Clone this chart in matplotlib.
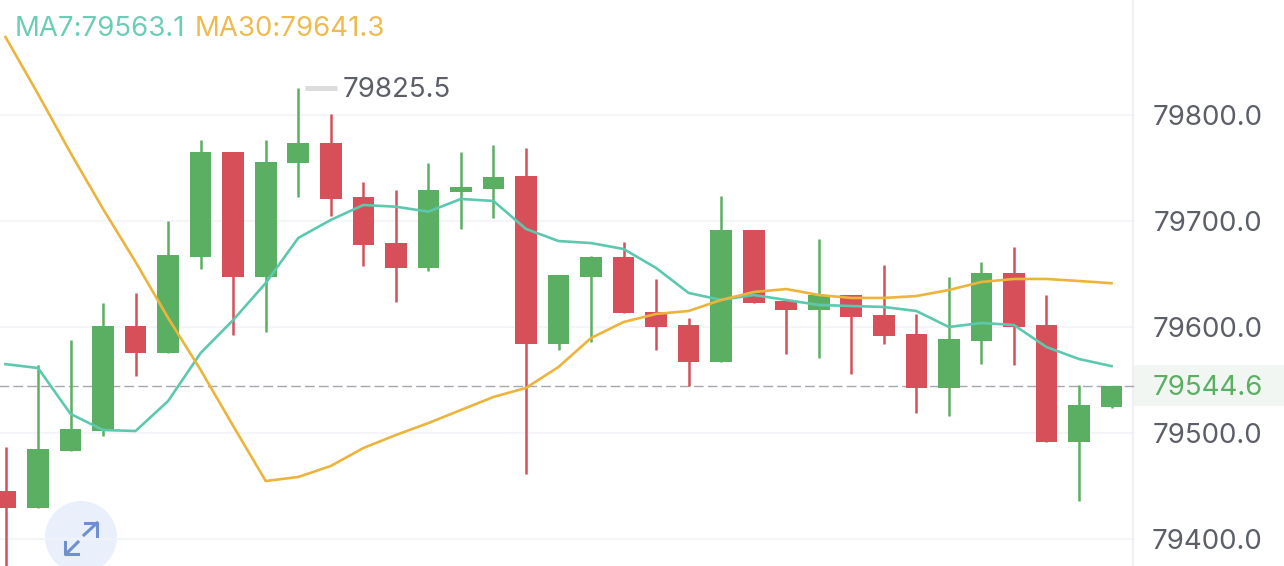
# candlestick chart with MA lines, phone app look

import matplotlib
matplotlib.use('Agg')
import matplotlib.pyplot as plt
from matplotlib.patches import Circle, Rectangle

plt.rcParams['font.family'] = ['Inter', 'Liberation Sans', 'DejaVu Sans']

opens = [79445.3, 79429.2, 79483.0, 79501.9, 79600.9, 79575.5, 79666.0, 79765.1, 79647.2, 79754.7,
         79773.6, 79722.6, 79679.2, 79655.7, 79727.4, 79730.2, 79742.5, 79584.0, 79647.2, 79666.0,
         79614.2, 79601.9, 79567.0, 79691.5, 79624.5, 79616.0, 79630.2, 79611.3, 79593.4, 79542.5,
         79586.8, 79650.9, 79601.9, 79491.5, 79524.5]
highs = [79486.8, 79564.2, 79587.7, 79622.6, 79632.1, 79700.0, 79776.4, 79765.1, 79776.4, 79825.5,
         79800.9, 79736.8, 79729.2, 79754.7, 79765.1, 79771.7, 79768.9, 79649.1, 79667.0, 79680.2,
         79645.3, 79608.5, 79723.6, 79691.5, 79624.5, 79683.0, 79630.2, 79658.5, 79612.3, 79647.2,
         79661.3, 79675.5, 79630.2, 79545.3, 79544.6]
lows = [79361.3, 79429.2, 79483.0, 79497.2, 79553.8, 79575.5, 79654.7, 79592.5, 79595.3, 79722.6,
        79704.7, 79657.5, 79623.6, 79652.8, 79692.5, 79702.8, 79461.3, 79578.3, 79585.8, 79613.2,
        79578.3, 79544.3, 79567.0, 79622.6, 79574.5, 79570.8, 79555.7, 79584.0, 79518.9, 79516.0,
        79565.1, 79564.2, 79491.5, 79435.8, 79523.6]
closes = [79429.2, 79484.9, 79503.8, 79600.9, 79575.5, 79667.9, 79765.1, 79647.2, 79755.7, 79773.6,
          79720.8, 79677.4, 79655.7, 79729.2, 79732.1, 79741.5, 79584.0, 79649.1, 79666.0, 79613.2,
          79600.0, 79567.0, 79691.5, 79622.6, 79616.0, 79630.2, 79609.4, 79591.5, 79542.5, 79588.7,
          79650.9, 79600.0, 79491.5, 79526.4, 79544.6]

ma7 = [79565.0, 79561.3, 79518.0, 79502.8, 79501.9, 79530.2, 79575.5, 79606.6, 79641.5, 79684.0,
       79701.0, 79715.1, 79713.5, 79708.8, 79720.8, 79718.9, 79692.5, 79681.1, 79679.2, 79673.6,
       79655.7, 79632.1, 79625.5, 79630.2, 79625.5, 79620.8, 79619.8, 79618.9, 79615.1, 79600.0,
       79603.8, 79601.9, 79581.1, 79569.8, 79563.1]
ma30 = [79873.6, 79819.8, 79764.2, 79711.3, 79661.3, 79608.5, 79559.4, 79506.6, 79454.7, 79458.5,
        79468.9, 79485.8, 79498.1, 79509.4, 79521.7, 79534.0, 79542.5, 79562.3, 79589.6, 79604.7,
        79612.3, 79615.1, 79625.5, 79633.0, 79635.8, 79630.2, 79627.4, 79627.4, 79629.2, 79634.9,
        79642.5, 79645.3, 79645.3, 79643.4, 79641.3]

grid_prices = [79800.0, 79700.0, 79600.0, 79500.0, 79400.0]
last_price = 79544.6
top_price = 79825.5

green = '#5BAF62'
red = '#D64F59'
gray = '#5C5F68'
label_size = 19.9

W, H = 1284, 566
fig = plt.figure(figsize=(W / 100, H / 100), dpi=100)

# pixel layer, goes behind the candles
bg = fig.add_axes([0, 0, 1, 1])
bg.set_xlim(0, W)
bg.set_ylim(H, 0)
bg.axis('off')
bg.add_patch(Rectangle((1134, 365), 150, 41, color='#F1F6F2', lw=0))
bg.plot([1133, 1133], [0, H], color='#F0F0F3', lw=1.5)
bg.add_patch(Circle((81, 537), 36, color='#E9F0FB', lw=0))

ax = fig.add_axes([0, 0, 1, 1])
ax.patch.set_alpha(0)
ax.axis('off')
ax.set_xlim(-5.5 / 32.53, (W - 5.5) / 32.53)
ax.set_ylim(79800 - (H - 115) / 1.06, 79800 + 115 / 1.06)
x_edge = (1134 - 5.5) / 32.53
x_label = (1262.5 - 5.5) / 32.53

for p in grid_prices:
    ax.plot([-1, x_edge], [p, p], color='#F1F3F8', lw=1.2, zorder=1)
    ax.text(x_label, p - 2.5, '%.1f' % p, color=gray, fontsize=label_size,
            ha='right', va='center', zorder=5)

ax.plot([-1, x_edge], [last_price, last_price], color='#A6A6AE', lw=1, zorder=1.5,
        dashes=(7, 3))
ax.text(x_label, last_price - 2.5, '%.1f' % last_price, color=green, fontsize=label_size,
        ha='right', va='center', zorder=5)

for i in range(len(opens)):
    c = green if closes[i] >= opens[i] else red
    ax.plot([i, i], [lows[i], highs[i]], color=c, lw=1.8, solid_capstyle='butt', zorder=2)
    ax.bar(i, closes[i] - opens[i], bottom=opens[i], width=0.665, color=c, lw=0, zorder=2)

xs = range(len(ma7))
ax.plot(xs, ma7, color='#5CC9AE', lw=1.9, zorder=3, solid_joinstyle='round')
ax.plot(xs, ma30, color='#EDB43C', lw=1.9, zorder=3, solid_joinstyle='round')

# high marker
ax.plot([(305 - 5.5) / 32.53, (337 - 5.5) / 32.53], [top_price, top_price], color='#DCDCDE', lw=3.6,
        solid_capstyle='butt', zorder=3)
ax.text((343 - 5.5) / 32.53, top_price - 2, '%.1f' % top_price, color=gray, fontsize=label_size,
        ha='left', va='center', zorder=5)

# top legend and expand icon, in pixels
fg = fig.add_axes([0, 0, 1, 1])
fg.patch.set_alpha(0)
fg.set_xlim(0, W)
fg.set_ylim(H, 0)
fg.axis('off')
fg.text(15, 36, 'MA7:%.1f' % ma7[-1], color='#6CCDB6', fontsize=label_size, va='baseline')
fg.text(195, 36, 'MA30:%.1f' % ma30[-1], color='#EDBB4F', fontsize=label_size, va='baseline')

icon = '#6F8FCF'
fg.plot([84, 97], [535, 523], color=icon, lw=2.2)
fg.plot([85, 97, 97], [523, 523, 536], color=icon, lw=2.2)
fg.plot([66, 78], [554, 542], color=icon, lw=2.2)
fg.plot([65, 65, 78], [542, 554, 554], color=icon, lw=2.2)

fig.savefig('out.png', dpi=100, facecolor='white')
